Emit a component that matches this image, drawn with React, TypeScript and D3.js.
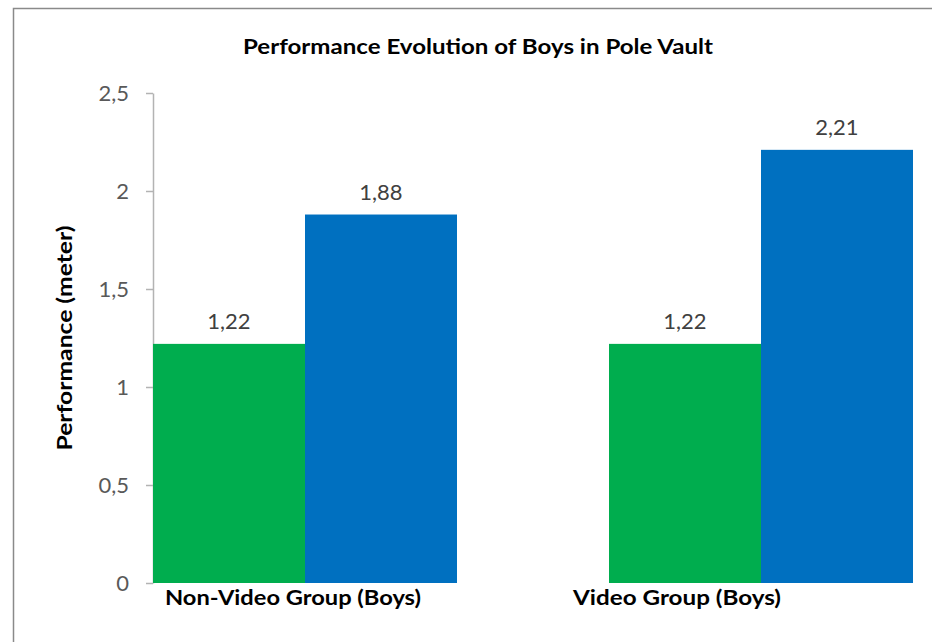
import React, { useEffect, useRef } from 'react';
import * as d3 from 'd3';

// chart data
const categories = ['Non-Video Group (Boys)', 'Video Group (Boys)'];
const seriesNames = ['Before', 'After'];
const beforeValues = [1.22, 1.22];
const afterValues = [1.88, 2.21];
const yTicks = [0, 0.5, 1, 1.5, 2, 2.5];

const colors = ['#00ad4e', '#0070c0'];

export default function App() {
  const ref = useRef<SVGSVGElement>(null);

  useEffect(() => {
    const svg = d3.select(ref.current);
    svg.selectAll('*').remove();

    const width = 932;
    const height = 642;
    const plot = { left: 153, right: 913, top: 93, bottom: 583 };
    const font = 'Lato, "Open Sans", sans-serif';

    // outer chart frame
    svg.append('rect')
      .attr('x', 13.5)
      .attr('y', 8.5)
      .attr('width', width + 20)
      .attr('height', height + 20)
      .attr('fill', '#fff')
      .attr('stroke', '#8a8a8a')
      .attr('stroke-width', 1.5);

    const x0 = d3.scaleBand<string>()
      .domain(categories)
      .range([plot.left, plot.right])
      .paddingInner(1 / 3)
      .paddingOuter(0);

    const x1 = d3.scaleBand<string>()
      .domain(seriesNames)
      .range([0, x0.bandwidth()]);

    const y = d3.scaleLinear()
      .domain([0, 2.5])
      .range([plot.bottom, plot.top]);

    const fmt = (v: number) => String(v).replace('.', ',');

    // y axis
    const yAxis = d3.axisLeft(y)
      .tickValues(yTicks)
      .tickFormat((d) => fmt(+d))
      .tickSize(7)
      .tickSizeOuter(0)
      .tickPadding(17);

    const yg = svg.append('g')
      .attr('transform', 'translate(' + plot.left + ',0)')
      .call(yAxis);
    yg.select('.domain').attr('stroke', '#b3b3b3').attr('stroke-width', 1.5);
    yg.selectAll('.tick line').attr('stroke', '#b3b3b3').attr('stroke-width', 1.5);
    yg.selectAll('.tick text')
      .attr('fill', '#595959')
      .style('font-family', font)
      .style('font-size', '22px');

    // bars
    const rows = categories.map((c, i) => ({
      cat: c,
      values: [beforeValues[i], afterValues[i]],
    }));

    const groups = svg.append('g')
      .selectAll('g')
      .data(rows)
      .enter()
      .append('g')
      .attr('transform', (d) => 'translate(' + x0(d.cat) + ',0)');

    groups.selectAll('rect')
      .data((d) => d.values.map((v, j) => ({ key: seriesNames[j], v, j })))
      .enter()
      .append('rect')
      .attr('x', (d) => x1(d.key)!)
      .attr('y', (d) => y(d.v))
      .attr('width', x1.bandwidth())
      .attr('height', (d) => y(0) - y(d.v))
      .attr('fill', (d) => colors[d.j]);

    // data labels
    groups.selectAll('text')
      .data((d) => d.values.map((v, j) => ({ key: seriesNames[j], v })))
      .enter()
      .append('text')
      .attr('x', (d) => x1(d.key)! + x1.bandwidth() / 2)
      .attr('y', (d) => y(d.v) - 15)
      .attr('text-anchor', 'middle')
      .attr('fill', '#404040')
      .style('font-family', font)
      .style('font-size', '22px')
      .text((d) => fmt(d.v));

    // category labels (sit left-shifted under each group, like the original)
    const labelShift = [12, -36];
    const labelWidth = [256, 208];
    svg.append('g')
      .selectAll('text')
      .data(categories)
      .enter()
      .append('text')
      .attr('x', (d, i) => x0(d)! + labelShift[i])
      .attr('y', plot.bottom + 22)
      .attr('textLength', (d, i) => labelWidth[i])
      .attr('lengthAdjust', 'spacingAndGlyphs')
      .attr('fill', '#000')
      .style('font-family', font)
      .style('font-weight', 'bold')
      .style('font-size', '21px')
      .text((d) => d);

    // title
    svg.append('text')
      .attr('x', 478)
      .attr('y', 54)
      .attr('text-anchor', 'middle')
      .attr('textLength', 470)
      .attr('lengthAdjust', 'spacingAndGlyphs')
      .attr('fill', '#000')
      .style('font-family', font)
      .style('font-weight', 'bold')
      .style('font-size', '21px')
      .text('Performance Evolution of Boys in Pole Vault');

    // y axis title
    svg.append('text')
      .attr('transform', 'translate(72,338) rotate(-90)')
      .attr('text-anchor', 'middle')
      .attr('textLength', 225)
      .attr('lengthAdjust', 'spacingAndGlyphs')
      .attr('fill', '#000')
      .style('font-family', font)
      .style('font-weight', 'bold')
      .style('font-size', '20px')
      .text('Performance (meter)');
  }, []);

  return (
    <svg
      ref={ref}
      width={932}
      height={642}
      style={{ position: 'absolute', left: 0, top: 0, background: '#fff' }}
    />
  );
}
